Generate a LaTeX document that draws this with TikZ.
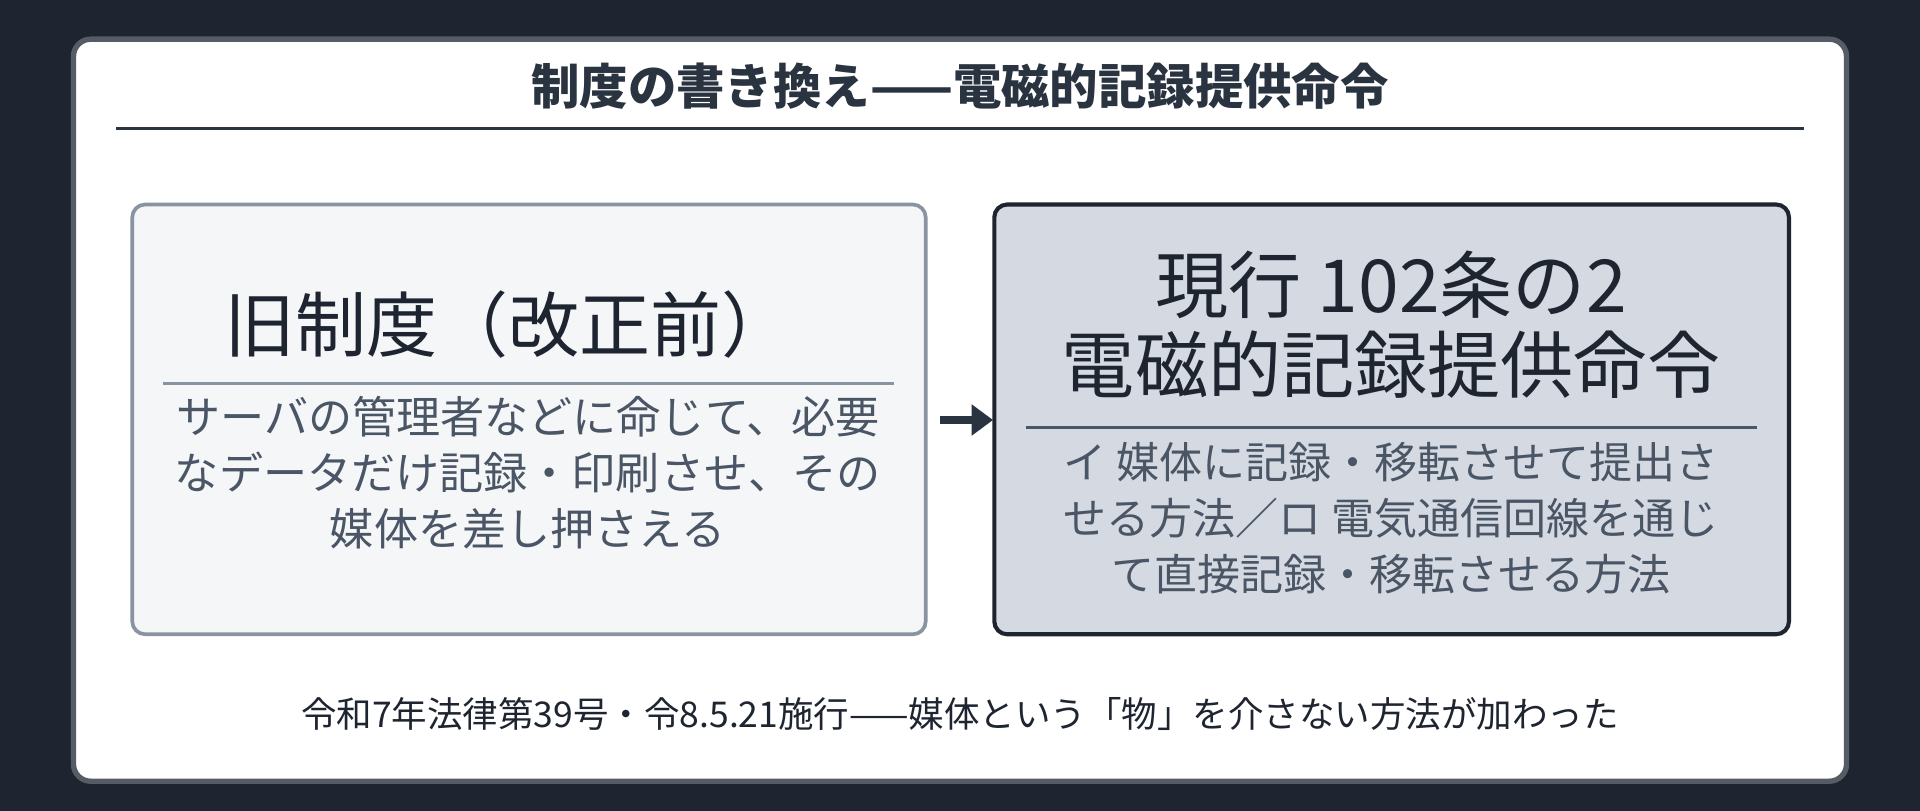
\documentclass[tikz,border=0pt]{standalone}
\usepackage{fontspec}
\setmainfont{Noto Sans CJK JP}
\usetikzlibrary{arrows.meta}
\definecolor{bg}{HTML}{1E2530}
\definecolor{ink}{HTML}{2A3340}
\definecolor{sub}{HTML}{4A5565}
\definecolor{lfill}{HTML}{F4F6F8}
\definecolor{lborder}{HTML}{8A93A0}
\definecolor{rfill}{HTML}{D5DAE2}
\begin{document}
\begin{tikzpicture}[x=0.02cm,y=-0.02cm,
  box/.style={rounded corners=12\pgflinewidth, line width=3pt},
  big/.style={font=\fontsize{33}{40}\selectfont, text=bg, align=center},
  body/.style={font=\fontsize{20.5}{26}\selectfont, text=sub, align=center},
  rule/.style={line width=1.2pt}]
\fill[bg] (0,0) rectangle (1568,662);
\useasboundingbox (0,0) rectangle (1568,662);
\draw[fill=white, draw=ink!80, line width=2.5pt, rounded corners=8pt] (60,32) rectangle (1508,638);
\node (title) at (784,70) {\fontsize{22.5}{27}\selectfont\bfseries\color{ink}制度の書き換え——電磁的記録提供命令};
\draw[ink, rule] (95,105) -- (1473,105);
\node[draw=lborder, fill=lfill, line width=1.7pt, rounded corners=6pt, minimum width=648*0.02cm, minimum height=351*0.02cm] (L) at (432,342.5) {};
\node[draw=bg, fill=rfill, line width=1.9pt, rounded corners=6pt, minimum width=649*0.02cm, minimum height=351*0.02cm] (R) at (1136.5,342.5) {};
\node[big] (lt) at (415,265) {旧制度（改正前）};
\draw[lborder, rule] (133,313) -- (730,313);
\node[body] (lb) at (431,386) {サーバの管理者などに命じて、必要\\なデータだけ記録・印刷させ、その\\媒体を差し押さえる};
\node[big, font=\fontsize{34}{37}\selectfont] (rt) at (1136,265) {現行 102条の2\\電磁的記録提供命令};
\draw[sub, rule] (838,349) -- (1435,349);
\node[body, font=\fontsize{20}{26}\selectfont] (rb) at (1136,423) {イ 媒体に記録・移転させて提出さ\\せる方法／ロ 電気通信回線を通じ\\て直接記録・移転させる方法};
\coordinate (a0) at (768,343);
\coordinate (a1) at (811,343);
\draw[ink, line width=3.5pt, -{Triangle[length=10pt,width=14pt]}] (a0) -- (a1);
\node (foot) at (784,583) {\fontsize{16.5}{20}\selectfont\color{bg}令和7年法律第39号・令8.5.21施行——媒体という「物」を介さない方法が加わった};
\end{tikzpicture}
\end{document}
